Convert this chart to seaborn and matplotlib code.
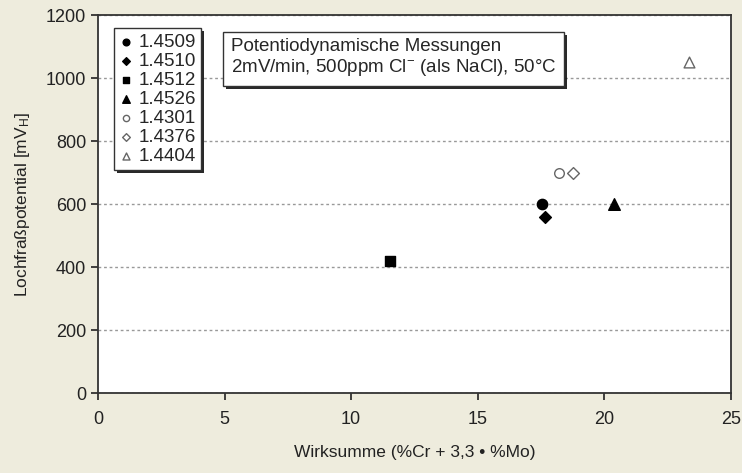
import pandas as pd
import seaborn as sns
import matplotlib.pyplot as plt
import matplotlib.patheffects as pe

# values
werkstoffe = ['1.4509', '1.4510', '1.4512', '1.4526', '1.4301', '1.4376', '1.4404']
wirksumme = [17.55, 17.65, 11.55, 20.4, 18.2, 18.75, 23.35]
lochfrass = [600, 560, 420, 600, 700, 700, 1050]

x_ticks = [0, 5, 10, 15, 20, 25]
y_ticks = [0, 200, 400, 600, 800, 1000, 1200]

# marker styles per material (filled black / open grey)
markers = ['o', 'D', 's', '^', 'o', 'D', '^']
sizes = [55, 36, 60, 70, 48, 36, 60]
faces = ['black', 'black', 'black', 'black', 'white', 'white', 'white']
edges = ['black', 'black', 'black', 'black', '#666666', '#666666', '#666666']

sns.set_style("ticks")
plt.rcParams['font.family'] = ['Liberation Sans', 'DejaVu Sans']
plt.rcParams['mathtext.default'] = 'regular'

df = pd.DataFrame({'Werkstoff': werkstoffe, 'Wirksumme': wirksumme, 'Lochfrass': lochfrass})

fig = plt.figure(figsize=(7.42, 4.73), dpi=100, facecolor='#EEECDD')
ax = fig.add_axes([0.132, 0.169, 0.853, 0.799])
ax.set_facecolor('white')

for i, row in df.iterrows():
    sns.scatterplot(x=[row['Wirksumme']], y=[row['Lochfrass']], ax=ax,
                    marker=markers[i], s=sizes[i], color=faces[i],
                    edgecolor=edges[i], linewidth=1.0, label=row['Werkstoff'],
                    zorder=3)

ax.set_xlim(0, 25)
ax.set_ylim(0, 1200)
ax.set_xticks(x_ticks)
ax.set_yticks(y_ticks)
ax.yaxis.grid(True, color='#999999', linestyle=(0, (2, 2)), linewidth=1.0)
ax.set_axisbelow(True)
for sp in ax.spines.values():
    sp.set_color('#333333')
    sp.set_linewidth(1.3)
ax.tick_params(axis='both', direction='out', length=5, width=1.2,
               labelsize=13, colors='#222222')
ax.tick_params(axis='x', pad=8)

ax.set_xlabel('Wirksumme (%Cr + 3,3 \u2022 %Mo)', fontsize=12.5, labelpad=12, color='#222222')
ax.set_ylabel('Lochfraßpotential [mV$_H$]', fontsize=12.5, labelpad=10, color='#222222')

leg = ax.legend(loc='upper left', bbox_to_anchor=(0.025, 0.966), fontsize=13.5,
                frameon=True, fancybox=False, shadow=False, handlelength=0.7,
                handletextpad=0.3, labelspacing=0.1, borderpad=0.3,
                borderaxespad=0, markerscale=0.65, framealpha=1.0)
frame = leg.get_frame()
frame.set_facecolor('white')
frame.set_edgecolor('#333333')
frame.set_linewidth(1.0)
frame.set_path_effects([
    pe.SimplePatchShadow(offset=(2, -2), shadow_rgbFace='#111111', alpha=0.9),
    pe.Normal()])

t = ax.text(0.21, 0.939, 'Potentiodynamische Messungen\n2mV/min, 500ppm Cl$^{-}$ (als NaCl), 50°C',
            transform=ax.transAxes, fontsize=13.5, va='top', ha='left',
            linespacing=1.15,
            bbox=dict(boxstyle='square,pad=0.42', facecolor='white',
                      edgecolor='#333333', linewidth=1.0))
t.get_bbox_patch().set_path_effects([
    pe.SimplePatchShadow(offset=(2, -2), shadow_rgbFace='#111111', alpha=0.9),
    pe.Normal()])

fig.savefig('out.png', dpi=100, facecolor=fig.get_facecolor())
